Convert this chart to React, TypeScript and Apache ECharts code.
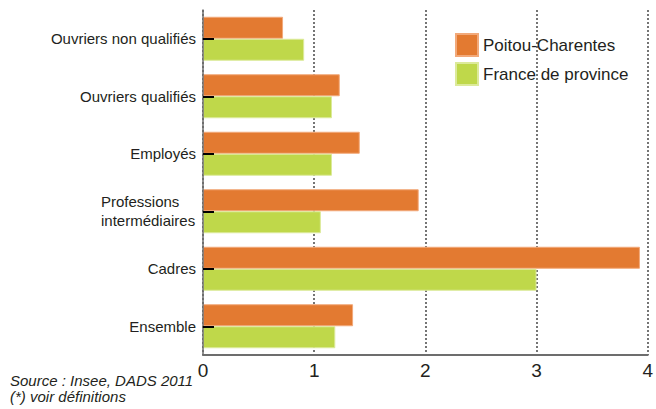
import React, { useEffect, useRef } from "react";
import * as echarts from "echarts";

const categories = [
  "Ouvriers non qualifiés",
  "Ouvriers qualifiés",
  "Employés",
  "Professions\nintermédiaires",
  "Cadres",
  "Ensemble",
];
const seriesNames = ["Poitou-Charentes", "France de province"];
const poitouValues = [0.72, 1.23, 1.41, 1.94, 3.93, 1.35];
const franceValues = [0.91, 1.16, 1.16, 1.06, 3.0, 1.19];
const xMin = 0;
const xMax = 4;
const xInterval = 1;
const sourceLines = ["Source : Insee, DADS 2011", "(*) voir définitions"];

const FONT = "'Liberation Sans', Arial, Helvetica, sans-serif";
const TEXT = "#231f20";
const ORANGE = "#e37a31";
const GREEN = "#bfd84a";
const LABEL_SIZE = 15;

function measure(text: string, size: number): number {
  const c = document.createElement("canvas");
  const ctx = c.getContext("2d");
  if (!ctx) return 80;
  ctx.font = `${size}px ${FONT}`;
  return Math.ceil(ctx.measureText(text).width);
}

export default function App() {
  const ref = useRef<HTMLDivElement>(null);
  useEffect(() => {
    if (!ref.current) return;
    const chart = echarts.init(ref.current, undefined, { renderer: "svg" });
    const multiW = Math.max(
      ...categories
        .filter((c) => c.includes("\n"))
        .flatMap((c) => c.split("\n"))
        .map((l) => measure(l, LABEL_SIZE)),
      1
    );
    chart.setOption({
      animation: false,
      textStyle: { fontFamily: FONT },
      grid: { left: 203, right: 5, top: 10, bottom: 54, containLabel: false },
      legend: {
        orient: "vertical",
        left: 455,
        top: 33,
        padding: 0,
        icon: "rect",
        itemWidth: 22,
        itemHeight: 22,
        itemGap: 5,
        textStyle: { fontFamily: FONT, fontSize: 17, color: TEXT },
        data: seriesNames,
      },
      xAxis: {
        type: "value",
        min: xMin,
        max: xMax,
        interval: xInterval,
        axisLine: { show: true, lineStyle: { color: "#6d6d6d", width: 2 } },
        axisTick: { show: false },
        axisLabel: { fontFamily: FONT, fontSize: 19, color: TEXT, margin: 6 },
        splitLine: {
          show: true,
          lineStyle: { color: "#666", width: 1.8, type: [2, 2] },
        },
      },
      yAxis: {
        type: "category",
        inverse: true,
        data: categories,
        z: 10,
        axisLine: { show: true, lineStyle: { color: "#6d6d6d", width: 1.5 } },
        axisTick: {
          show: true,
          inside: true,
          alignWithLabel: true,
          length: 11,
          lineStyle: { color: "#000", width: 2 },
        },
        axisLabel: {
          fontFamily: FONT,
          fontSize: LABEL_SIZE,
          color: TEXT,
          margin: 7,
          lineHeight: 19,
          formatter: (v: string) =>
            v.includes("\n")
              ? v
                  .split("\n")
                  .map((l) => `{m|${l}}`)
                  .join("\n")
              : v,
          rich: {
            m: {
              fontFamily: FONT,
              fontSize: LABEL_SIZE,
              color: TEXT,
              lineHeight: 19,
              width: multiW,
              align: "left",
            },
          },
        },
      },
      series: [
        {
          name: seriesNames[0],
          type: "bar",
          data: poitouValues,
          barWidth: 22,
          barGap: "0%",
          itemStyle: { color: ORANGE, borderColor: "#f2a97a", borderWidth: 1 },
        },
        {
          name: seriesNames[1],
          type: "bar",
          data: franceValues,
          barWidth: 22,
          barGap: "0%",
          itemStyle: { color: GREEN, borderColor: "#dcea9a", borderWidth: 1 },
        },
      ],
      graphic: sourceLines.map((t, i) => ({
        type: "text",
        left: 10,
        top: 373 + i * 16,
        style: {
          text: t,
          fontFamily: FONT,
          fontSize: 15,
          fontStyle: "italic",
          fill: TEXT,
        },
      })),
    });
    return () => chart.dispose();
  }, []);
  return (
    <div
      ref={ref}
      style={{ position: "fixed", left: 0, top: 0, width: 656, height: 409, background: "#fff" }}
    />
  );
}
